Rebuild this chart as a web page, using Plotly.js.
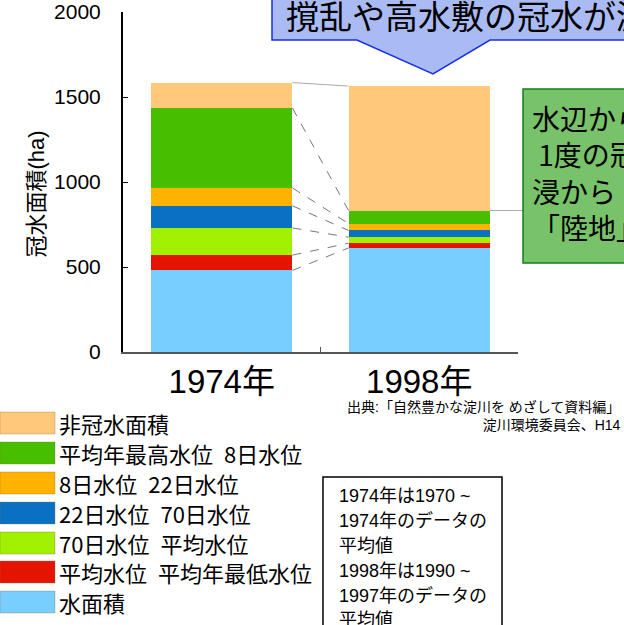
<!DOCTYPE html>
<html><head><meta charset="utf-8">
<script src="https://cdn.plot.ly/plotly-3.0.1.min.js"></script>
<style>html,body{margin:0;padding:0;background:#fff;overflow:hidden}</style>
</head><body><div id="chart" style="width:624px;height:625px"></div>
<script>
// ---- data ----
const years = ['1974年', '1998年'];
const seriesNames = ['水面積', '平均水位\u2002平均年最低水位', '70日水位\u2002平均水位', '22日水位\u200270日水位', '8日水位\u200222日水位', '平均年最高水位\u20028日水位', '非冠水面積'];
const waterArea = [480, 612];
const meanToLowest = [90, 28];
const day70ToMean = [160, 35];
const day22To70 = [130, 40];
const day8To22 = [105, 40];
const highestTo8 = [470, 77];
const nonFlooded = [150, 732];
const seriesColors = ['#78CEFF', '#E41400', '#A0F000', '#0A70C2', '#FFB200', '#48BE00', '#FFC87A'];
const yTicks = [0, 500, 1000, 1500, 2000];
const noteLines = ['1974年は1970 ~', '1974年のデータの', '平均値', '1998年は1990 ~', '1997年のデータの', '平均値'];
const sourceLines = ['出典:「自然豊かな淀川を めざして資料編」', '淀川環境委員会、H14'];
const calloutTop = '撹乱や高水敷の冠水が減少';
const calloutSide = ['水辺から', '\u00A01度の冠', '浸から', '「陸地」へ'];
const yTitle = '冠水面積(ha)';

// ---- layout helpers (pixel -> paper) ----
const L = 123, W = 395, T = 12, H = 340;
const px = x => (x - L) / W;
const py = y => (T + H - y) / H;
const FONT = 'Liberation Sans, Arial, Noto Sans CJK JP, sans-serif';
const JFONT = 'Noto Sans CJK JP, Liberation Sans, sans-serif';
const barW = 0.716;

const series = [waterArea, meanToLowest, day70ToMean, day22To70, day8To22, highestTo8, nonFlooded];
const traces = series.map((vals, i) => ({
  type: 'bar', x: years, y: vals, name: seriesNames[i], width: barW,
  marker: {color: seriesColors[i], line: {width: 0}}, hoverinfo: 'skip'
}));

// cumulative boundaries
const cum = years.map((_, j) => {
  let s = 0; return series.map(v => (s += v[j]));
});

const shapes = [];
// connector lines between bars
for (let k = 0; k < series.length; k++) {
  const isTop = k === series.length - 1;
  shapes.push({type: 'line', xref: 'x', yref: 'y',
    x0: 0 + barW / 2, y0: cum[0][k], x1: 1 - barW / 2, y1: cum[1][k],
    line: {color: isTop ? '#aaaaaa' : '#777777', width: 1, dash: isTop ? 'solid' : 'dash'}});
}
// line from 1998 green top to side callout
shapes.push({type: 'line', xref: 'paper', yref: 'y', x0: px(490), x1: px(523),
  y0: cum[1][5], y1: cum[1][5], line: {color: '#aaaaaa', width: 1}});
// top callout (box + arrow)
const cp = [[272, -6], [272, 40], [357, 40], [433, 74], [490, 40], [640, 40], [640, -6]];
shapes.push({type: 'path', xref: 'paper', yref: 'paper',
  path: 'M' + cp.map(p => px(p[0]) + ',' + py(p[1])).join(' L') + ' Z',
  fillcolor: '#A9BBF2', line: {color: '#1530E8', width: 1.5}});
// side callout box
shapes.push({type: 'rect', xref: 'paper', yref: 'paper', x0: px(523), x1: px(640), y0: py(263), y1: py(89),
  fillcolor: '#78C26A', line: {color: '#12801A', width: 1.5}});
// note box
shapes.push({type: 'rect', xref: 'paper', yref: 'paper', x0: px(323), x1: px(502), y0: py(632), y1: py(477),
  fillcolor: 'rgba(0,0,0,0)', line: {color: '#000', width: 1.5}});

const annotations = [];
// legend swatches + labels (top-down = reverse stack order)
const legendRowY = [423, 453, 483, 513, 543, 572, 602];
for (let r = 0; r < series.length; r++) {
  const i = series.length - 1 - r;
  const cy = legendRowY[r];
  shapes.push({type: 'rect', xref: 'paper', yref: 'paper', x0: px(0), x1: px(55), y0: py(cy + 11), y1: py(cy - 11),
    fillcolor: seriesColors[i], line: {color: 'rgba(150,110,60,0.35)', width: 1}});
  annotations.push({xref: 'paper', yref: 'paper', x: px(57), y: py(cy), xanchor: 'left', yanchor: 'middle',
    text: seriesNames[i], showarrow: false, font: {family: JFONT, size: 22, color: '#000'}});
}
// y title
annotations.push({xref: 'paper', yref: 'paper', x: px(21), y: py(194), textangle: -90, showarrow: false,
  text: yTitle, font: {family: FONT, size: 22, color: '#000'}});
// top callout text
annotations.push({xref: 'paper', yref: 'paper', x: px(284), y: py(15), xanchor: 'left', yanchor: 'middle',
  showarrow: false, text: calloutTop, font: {family: JFONT, size: 33, color: '#000'}});
// side callout text
annotations.push({xref: 'paper', yref: 'paper', x: px(530), y: py(172), xanchor: 'left', yanchor: 'middle', align: 'left',
  showarrow: false, text: calloutSide.join('<br>'), font: {family: JFONT, size: 28, color: '#000'}});
// note text
const noteY = [496, 521, 546, 571, 596, 620];
noteLines.forEach((t, i) => annotations.push({xref: 'paper', yref: 'paper', x: px(337), y: py(noteY[i]),
  xanchor: 'left', yanchor: 'middle', showarrow: false, text: t, font: {family: FONT, size: 18, color: '#000'}}));
// source
annotations.push({xref: 'paper', yref: 'paper', x: px(623), y: py(416), xanchor: 'right', yanchor: 'middle', align: 'right',
  showarrow: false, text: sourceLines.join('<br>'), font: {family: FONT, size: 14, color: '#000'}});

const layout = {
  width: 624, height: 625, barmode: 'stack', showlegend: false,
  margin: {l: L, r: 624 - L - W, t: T, b: 625 - T - H},
  paper_bgcolor: '#fff', plot_bgcolor: '#fff',
  xaxis: {type: 'category', tickson: 'boundaries', ticks: 'inside', ticklen: 5, tickcolor: '#555',
    showline: true, linecolor: '#555', linewidth: 1.5, showgrid: false, zeroline: false,
    tickfont: {family: FONT, size: 33, color: '#000'}, ticklabelstandoff: 0, range: [-0.5, 1.5]},
  yaxis: {range: [0, 2000], tickvals: yTicks, ticktext: yTicks.map(String), ticks: 'inside', ticklen: 5,
    tickcolor: '#000', showline: true, linecolor: '#000', linewidth: 2, showgrid: false, zeroline: false,
    tickfont: {family: FONT, size: 21, color: '#000'}, ticklabelstandoff: 16},
  shapes: shapes, annotations: annotations
};

Plotly.newPlot('chart', traces, layout, {displayModeBar: false, staticPlot: true});
</script></body></html>
